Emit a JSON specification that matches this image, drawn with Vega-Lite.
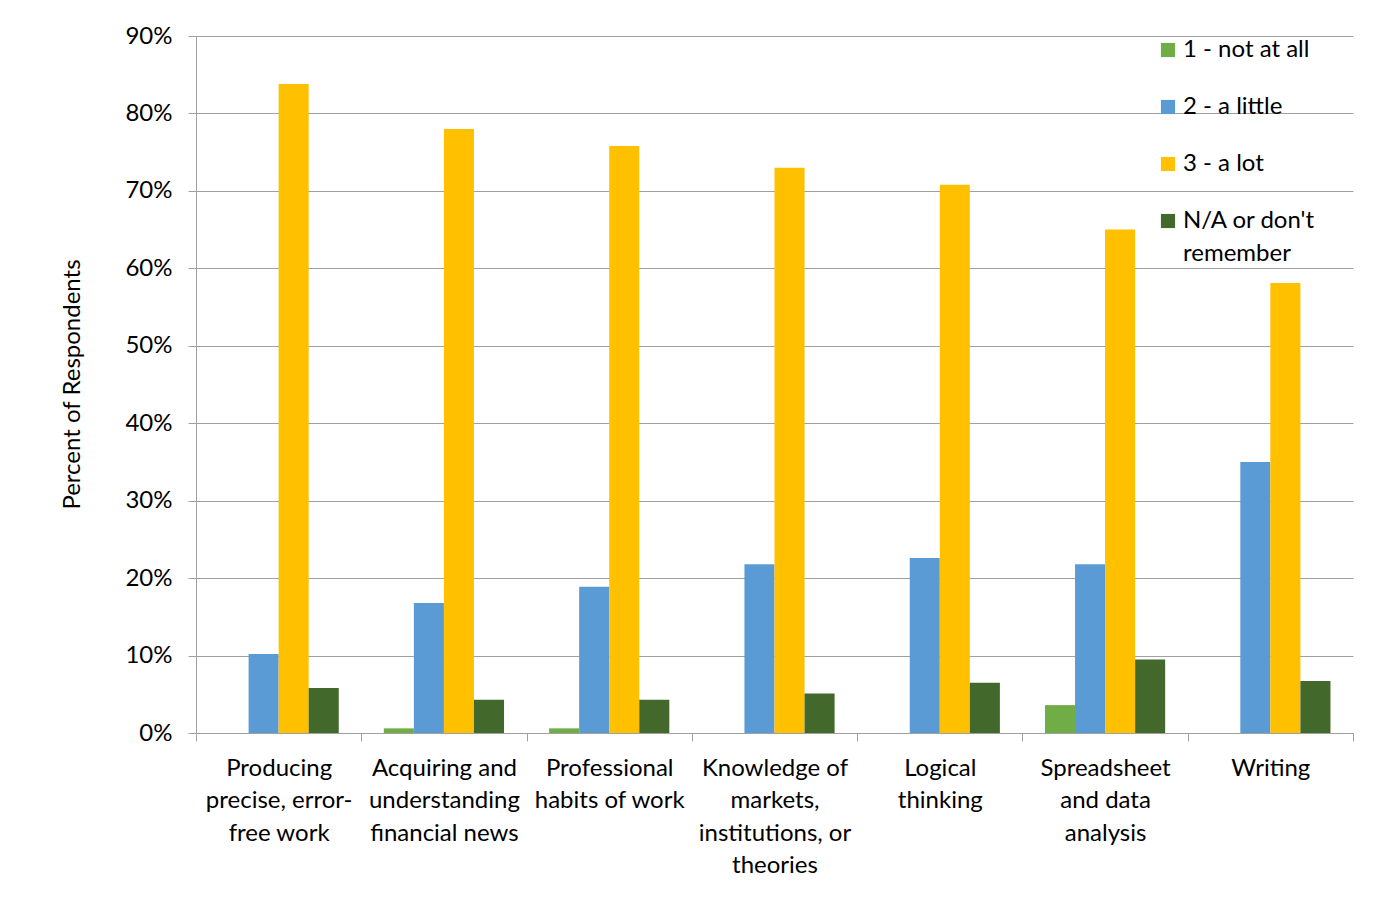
{
  "$schema": "https://vega.github.io/schema/vega-lite/v6.json",
  "width": 1157,
  "height": 697,
  "autosize": {"type": "none"},
  "padding": {"left": 196, "top": 36, "right": 27, "bottom": 183},
  "background": "white",
  "config": {
    "font": "Lato",
    "view": {"stroke": null},
    "style": {"guide-label": {"lineHeight": 33}}
  },
  "data": {
    "values": [
      {"skill": "Producing precise, error-free work", "response": "1 - not at all", "pct": 0.0},
      {"skill": "Producing precise, error-free work", "response": "2 - a little", "pct": 0.102},
      {"skill": "Producing precise, error-free work", "response": "3 - a lot", "pct": 0.838},
      {"skill": "Producing precise, error-free work", "response": "N/A or don't remember", "pct": 0.058},
      {"skill": "Acquiring and understanding financial news", "response": "1 - not at all", "pct": 0.006},
      {"skill": "Acquiring and understanding financial news", "response": "2 - a little", "pct": 0.168},
      {"skill": "Acquiring and understanding financial news", "response": "3 - a lot", "pct": 0.78},
      {"skill": "Acquiring and understanding financial news", "response": "N/A or don't remember", "pct": 0.043},
      {"skill": "Professional habits of work", "response": "1 - not at all", "pct": 0.006},
      {"skill": "Professional habits of work", "response": "2 - a little", "pct": 0.189},
      {"skill": "Professional habits of work", "response": "3 - a lot", "pct": 0.758},
      {"skill": "Professional habits of work", "response": "N/A or don't remember", "pct": 0.043},
      {"skill": "Knowledge of markets, institutions, or theories", "response": "1 - not at all", "pct": 0.0},
      {"skill": "Knowledge of markets, institutions, or theories", "response": "2 - a little", "pct": 0.218},
      {"skill": "Knowledge of markets, institutions, or theories", "response": "3 - a lot", "pct": 0.73},
      {"skill": "Knowledge of markets, institutions, or theories", "response": "N/A or don't remember", "pct": 0.051},
      {"skill": "Logical thinking", "response": "1 - not at all", "pct": 0.0},
      {"skill": "Logical thinking", "response": "2 - a little", "pct": 0.226},
      {"skill": "Logical thinking", "response": "3 - a lot", "pct": 0.708},
      {"skill": "Logical thinking", "response": "N/A or don't remember", "pct": 0.065},
      {"skill": "Spreadsheet and data analysis", "response": "1 - not at all", "pct": 0.036},
      {"skill": "Spreadsheet and data analysis", "response": "2 - a little", "pct": 0.218},
      {"skill": "Spreadsheet and data analysis", "response": "3 - a lot", "pct": 0.65},
      {"skill": "Spreadsheet and data analysis", "response": "N/A or don't remember", "pct": 0.095},
      {"skill": "Writing", "response": "1 - not at all", "pct": 0.0},
      {"skill": "Writing", "response": "2 - a little", "pct": 0.35},
      {"skill": "Writing", "response": "3 - a lot", "pct": 0.581},
      {"skill": "Writing", "response": "N/A or don't remember", "pct": 0.067}
    ]
  },
  "mark": {"type": "bar"},
  "encoding": {
    "x": {
      "field": "skill",
      "type": "nominal",
      "sort": null,
      "scale": {"paddingInner": 0, "paddingOuter": 0},
      "axis": {
        "title": null,
        "labelAngle": 0,
        "labelFontSize": 24,
        "labelColor": "#000000",
        "labelLineHeight": 32.5,
        "labelPadding": 15,
        "labelBaseline": "top",
        "tickBand": "extent",
        "tickSize": 8,
        "tickColor": "#a0a0a0",
        "domainColor": "#a0a0a0",
        "labelExpr": "datum.value == 'Producing precise, error-free work' ? ['Producing', 'precise, error-', 'free work'] : datum.value == 'Acquiring and understanding financial news' ? ['Acquiring and', 'understanding', 'financial news'] : datum.value == 'Professional habits of work' ? ['Professional', 'habits of work'] : datum.value == 'Knowledge of markets, institutions, or theories' ? ['Knowledge of', 'markets,', 'institutions, or', 'theories'] : datum.value == 'Logical thinking' ? ['Logical', 'thinking'] : datum.value == 'Spreadsheet and data analysis' ? ['Spreadsheet', 'and data', 'analysis'] : datum.value"
      }
    },
    "xOffset": {
      "field": "response",
      "type": "nominal",
      "sort": ["1 - not at all", "2 - a little", "3 - a lot", "N/A or don't remember"],
      "scale": {"paddingInner": 0, "paddingOuter": 0.75}
    },
    "y": {
      "field": "pct",
      "type": "quantitative",
      "scale": {"domain": [0, 0.9]},
      "axis": {
        "title": "Percent of Respondents",
        "titleFontSize": 24,
        "titleFontWeight": "normal",
        "titleColor": "#000000",
        "titleX": -124,
        "titleY": 348,
        "titleAngle": -90,
        "titleAlign": "center",
        "titleBaseline": "middle",
        "format": ".0%",
        "values": [0, 0.1, 0.2, 0.3, 0.4, 0.5, 0.6, 0.7, 0.8, 0.9],
        "labelFontSize": 24,
        "labelColor": "#000000",
        "labelPadding": 16,
        "tickSize": 8,
        "tickColor": "#a0a0a0",
        "domainColor": "#a0a0a0",
        "grid": true,
        "gridColor": "#a0a0a0",
        "gridWidth": 1
      }
    },
    "color": {
      "field": "response",
      "type": "nominal",
      "sort": ["1 - not at all", "2 - a little", "3 - a lot", "N/A or don't remember"],
      "scale": {
        "domain": ["1 - not at all", "2 - a little", "3 - a lot", "N/A or don't remember"],
        "range": ["#70AD47", "#5B9BD5", "#FFC000", "#43682B"]
      },
      "legend": {
        "title": null,
        "orient": "none",
        "legendX": 960,
        "legendY": 2,
        "symbolType": "square",
        "symbolSize": 200,
        "symbolStrokeWidth": 0,
        "labelFontSize": 24,
        "labelColor": "#000000",
        "labelOffset": 3,
        "rowPadding": 33,
        "labelLimit": 300,
        "labelExpr": "datum.label == \"N/A or don't remember\" ? [\"N/A or don't\", 'remember'] : datum.label"
      }
    }
  }
}
